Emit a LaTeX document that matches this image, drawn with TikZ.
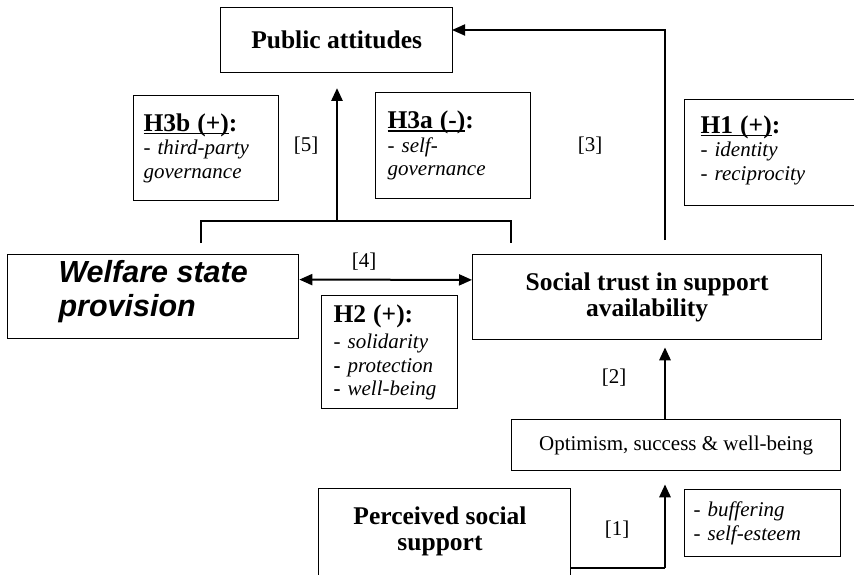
\documentclass[tikz,border=0pt]{standalone}
\usepackage{fontspec}
\setmainfont{Liberation Serif}
\setsansfont{Liberation Sans}
\usetikzlibrary{arrows.meta,calc}
\newcommand{\hdfont}{\fontsize{25.5}{26}\selectfont\upshape\bfseries}
\newcommand{\itfont}{\fontsize{21}{23.5}\selectfont\itshape}
\newcommand{\rmfont}{\fontsize{21}{24}\selectfont}
\newcommand{\wsfont}{\fontsize{30.5}{34}\selectfont\sffamily\bfseries\itshape}
\newcommand{\myul}[1]{\setbox0\hbox{#1}\rlap{\rule[-3pt]{\wd0}{1.3pt}}\box0}
\begin{document}
\begin{tikzpicture}[x=1pt,y=-1pt,
  box/.style={draw,line width=1.3pt,inner sep=0pt,anchor=north west},
  hyp/.style={box,align=left,font=\itfont},
  lbl/.style={font=\rmfont,inner sep=0pt},
  conn/.style={line width=1.5pt},
  arr/.style={line width=1.8pt,-{Triangle[length=13pt,width=11pt]}},
  thickarr/.style={line width=2.8pt,-{Triangle[length=13pt,width=11pt]}},
  dblarr/.style={line width=2pt,{Triangle[length=13pt,width=11pt]}-{Triangle[length=13pt,width=11pt]}}
]
\useasboundingbox (0,0) rectangle (854,575);
\clip (0,0) rectangle (854,575);

% boxes
\node[box,minimum width=232,minimum height=65,font=\hdfont] (pub) at (220,7) {Public attitudes};
\node[hyp,minimum width=145,minimum height=105,text width=125,inner xsep=10] (h3b) at (133,95)
  {{\hdfont\myul{H3b (+)}:}\\- third-party\\governance};
\node[hyp,minimum width=155,minimum height=106,text width=131,inner xsep=12] (h3a) at (375,92)
  {{\hdfont\myul{H3a (-)}:}\\- self-\\governance};
\node[hyp,minimum width=200,minimum height=106,text width=168,inner xsep=16] (h1) at (684,99)
  {{\hdfont\myul{H1 (+)}:}\\- identity\\- reciprocity\\[-14pt]\mbox{}};
\node[box,minimum width=291,minimum height=84,align=left,font=\wsfont] (welf) at (7,254)
  {Welfare state\\provision\\[-18pt]};
\node[box,minimum width=349,minimum height=85,align=center,font=\hdfont] (trust) at (472,254)
  {Social trust in support\\availability};
\node[hyp,minimum width=136,minimum height=113,text width=112,inner xsep=12] (h2) at (321,295)
  {{\hdfont H2 (+):}\\[3pt]- solidarity\\{\upshape\bfseries -} protection\\{\upshape\bfseries -} well-being};
\node[box,minimum width=329,minimum height=51,font=\rmfont] (opt) at (511,419)
  {Optimism, success \& well-being};
\node[box,minimum width=252,minimum height=120] (perc) at (318,488) {};
\node[font=\hdfont,align=center,inner sep=0pt] (perct) at (440,531) {Perceived social\\support};
\node[hyp,minimum width=156,minimum height=67,text width=138,inner xsep=9] (buf) at (684,489)
  {- buffering\\- self-esteem};

% labels
\node[lbl] (l5) at (306,146) {[5]};
\node[lbl] (l3) at (590,146) {[3]};
\node[lbl] (l4) at (364,262) {[4]};
\node[lbl] (l2) at (614,378) {[2]};
\node[lbl] (l1) at (617,530) {[1]};

% coordinates
\coordinate (ax) at (665,0);
\coordinate (c3) at (665,240);
\coordinate (pubin) at (452,30);
\coordinate (bl) at (201,243);
\coordinate (blt) at (201,221);
\coordinate (brt) at (511,221);
\coordinate (br) at (511,243);
\coordinate (c5s) at (337,221);
\coordinate (c5e) at (337,88);
\coordinate (c1) at (570,568);

% connectors
\draw[arr] (c3) |- (pubin);
\draw[conn] (bl) -- (blt) -- (brt) -- (br);
\draw[thickarr] (c5s) -- (c5e);
\draw[dblarr] ($(welf.north east)!0.3!(welf.south east)$) -- ($(trust.north west)!0.3!(trust.south west)$);
\draw[thickarr,shorten >=7pt] (ax |- opt.north) -- (ax |- trust.south);
\draw[conn] (c1) -- (ax |- c1);
\draw[thickarr,shorten >=13pt] (ax |- c1) -- (ax |- opt.south);
\end{tikzpicture}
\end{document}
